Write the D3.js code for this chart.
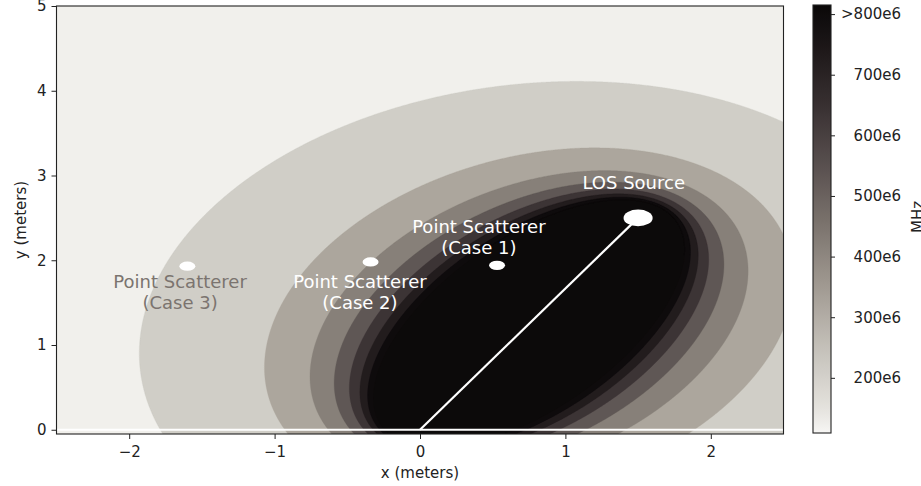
<!DOCTYPE html>
<html><head><meta charset="utf-8">
<script src="https://cdn.jsdelivr.net/npm/d3@7"></script>
<style>html,body{margin:0;padding:0;background:#fff;} svg{display:block;font-family:"DejaVu Sans",sans-serif;}</style>
</head><body><svg id="chart" width="921" height="486"></svg>
<script>
// ---------------- data ----------------
const xDomain = [-2.5, 2.5];
const yDomain = [-0.05, 5];
const xTicks = [-2, -1, 0, 1, 2];
const yTicks = [0, 1, 2, 3, 4, 5];
const receiverPos = [0, 0];
const losSource = [1.5, 2.5];
const scattererX = [0.53, -0.34, -1.60];
const scattererY = [1.94, 1.98, 1.93];
const contourLevels = [100e6, 200e6, 300e6, 400e6, 500e6, 600e6, 700e6, 800e6];
const speedOfLight = 3e8;               // bandwidth = c / excess path length
const cbarDomain = [109e6, 815e6];
const cbarTicks = [200e6, 300e6, 400e6, 500e6, 600e6, 700e6, 800e6];
const cbarTickLabels = ["200e6", "300e6", "400e6", "500e6", "600e6", "700e6", ">800e6"];
const labelTexts = [["LOS Source"], ["Point Scatterer", "(Case 1)"], ["Point Scatterer", "(Case 2)"], ["Point Scatterer", "(Case 3)"]];
const labelX = [1.47, 0.405, -0.413, -1.65];
const labelY = [2.84, 2.327, 1.678, 1.678];
const cmapValues = [109e6, 150e6, 250e6, 350e6, 450e6, 550e6, 650e6, 750e6, 815e6];

// ---------------- styles ----------------
const bandColors = ["#f1f0ec", "#d0cec7", "#aca69d", "#878079", "#5f5755", "#3c3435", "#221c1d", "#0e0b0c", "#0c0a0a"];
const cmapColors = ["#f7f6f4", "#e4e2dd", "#c4c0b9", "#a19a92", "#7c746e", "#59504f", "#383031", "#1b1617", "#0a0808"];
const labelColors = ["#ffffff", "#ffffff", "#ffffff", "#7b746f"];
const FONT = 15, ANN_FONT = 18;

const svg = d3.select("#chart");
const plot = {left: 56.5, right: 783.5, top: 6, bottom: 434};
const x = d3.scaleLinear().domain(xDomain).range([plot.left, plot.right]);
const y = d3.scaleLinear().domain(yDomain).range([plot.bottom, plot.top]);

svg.append("defs").append("clipPath").attr("id", "clip")
  .append("rect").attr("x", plot.left).attr("y", plot.top)
  .attr("width", plot.right - plot.left).attr("height", plot.bottom - plot.top);

// ---------------- field ----------------
const nx = 728, ny = 428;
const dxw = (xDomain[1] - xDomain[0]) / nx, dyw = (yDomain[1] - yDomain[0]) / ny;
const direct = Math.hypot(losSource[0] - receiverPos[0], losSource[1] - receiverPos[1]);
const values = new Float64Array(nx * ny);
for (let j = 0; j < ny; j++) {
  const py = yDomain[0] + (j + 0.5) * dyw;
  for (let i = 0; i < nx; i++) {
    const px = xDomain[0] + (i + 0.5) * dxw;
    const excess = Math.hypot(px - receiverPos[0], py - receiverPos[1]) + Math.hypot(px - losSource[0], py - losSource[1]) - direct;
    values[j * nx + i] = speedOfLight / Math.max(excess, 1e-4);
  }
}
const contours = d3.contours().size([nx, ny]).thresholds(contourLevels)(values);
const proj = d3.geoTransform({point: function(gx, gy) {
  this.stream.point(x(xDomain[0] + gx * dxw), y(yDomain[0] + gy * dyw));
}});
const path = d3.geoPath(proj);

const field = svg.append("g").attr("clip-path", "url(#clip)");
field.append("rect").attr("x", plot.left).attr("y", plot.top)
  .attr("width", plot.right - plot.left).attr("height", plot.bottom - plot.top)
  .attr("fill", bandColors[0]);
field.selectAll("path.band").data(contours).join("path").attr("class", "band")
  .attr("d", path).attr("fill", (d, i) => bandColors[i + 1]).attr("stroke", (d, i) => bandColors[i + 1]).attr("stroke-width", 0.3);

// white horizontal line at y = 0 and LOS line
field.append("line").attr("x1", plot.left).attr("x2", plot.right)
  .attr("y1", y(0)).attr("y2", y(0)).attr("stroke", "#fff").attr("stroke-width", 2);
field.append("line").attr("x1", x(receiverPos[0])).attr("y1", y(receiverPos[1]))
  .attr("x2", x(losSource[0])).attr("y2", y(losSource[1])).attr("stroke", "#fff").attr("stroke-width", 2.2);

// markers (circles in data space)
const srcR = 0.1, scatR = 0.055;
field.append("ellipse").attr("cx", x(losSource[0])).attr("cy", y(losSource[1]))
  .attr("rx", x(srcR) - x(0)).attr("ry", y(0) - y(srcR)).attr("fill", "#fff");
field.selectAll("ellipse.scat").data(scattererX).join("ellipse").attr("class", "scat")
  .attr("cx", d => x(d)).attr("cy", (d, i) => y(scattererY[i]))
  .attr("rx", x(scatR) - x(0)).attr("ry", y(0) - y(scatR)).attr("fill", "#fff");

// annotations
labelTexts.forEach((lines, k) => {
  const t = svg.append("text").attr("x", x(labelX[k])).attr("y", y(labelY[k]))
    .attr("text-anchor", "middle").attr("font-size", ANN_FONT).attr("fill", labelColors[k]);
  lines.forEach((ln, m) => t.append("tspan").attr("x", x(labelX[k])).attr("dy", m === 0 ? 0 : "1.2em").text(ln));
});

// frame
svg.append("rect").attr("x", plot.left).attr("y", plot.top)
  .attr("width", plot.right - plot.left).attr("height", plot.bottom - plot.top)
  .attr("fill", "none").attr("stroke", "#222").attr("stroke-width", 1.1);

// axes
const fmt = d3.format("d");
const xAxis = svg.append("g").attr("transform", `translate(0,${plot.bottom})`)
  .call(d3.axisBottom(x).tickValues(xTicks).tickSize(5).tickPadding(7.5).tickFormat(d => d < 0 ? "\u2212" + Math.abs(d) : fmt(d)));
const yAxis = svg.append("g").attr("transform", `translate(${plot.left},0)`)
  .call(d3.axisLeft(y).tickValues(yTicks).tickSize(5).tickPadding(5).tickFormat(fmt));
[xAxis, yAxis].forEach(a => {
  a.select(".domain").remove();
  a.selectAll("line").attr("stroke", "#222");
  a.selectAll("text").attr("font-size", FONT).attr("fill", "#222").attr("font-family", "DejaVu Sans");
});

svg.append("text").attr("x", (plot.left + plot.right) / 2).attr("y", 478)
  .attr("text-anchor", "middle").attr("font-size", FONT).attr("fill", "#222").text("x (meters)");
svg.append("text").attr("transform", `translate(26,${(plot.top + plot.bottom) / 2}) rotate(-90)`)
  .attr("text-anchor", "middle").attr("font-size", FONT).attr("fill", "#222").text("y (meters)");

// ---------------- colorbar ----------------
const cb = {x: 813, w: 18, top: 5, bottom: 433};
const cy = d3.scaleLinear().domain(cbarDomain).range([cb.bottom, cb.top]);
const cmap = d3.scaleLinear().domain(cmapValues).range(cmapColors).interpolate(d3.interpolateRgb);
const grad = svg.select("defs").append("linearGradient").attr("id", "cbgrad")
  .attr("x1", 0).attr("x2", 0).attr("y1", 1).attr("y2", 0);
d3.range(0, 1.0001, 0.02).forEach(t => {
  const v = cbarDomain[0] + t * (cbarDomain[1] - cbarDomain[0]);
  grad.append("stop").attr("offset", t).attr("stop-color", cmap(v));
});
svg.append("rect").attr("x", cb.x).attr("y", cb.top).attr("width", cb.w).attr("height", cb.bottom - cb.top)
  .attr("fill", "url(#cbgrad)").attr("stroke", "#222").attr("stroke-width", 1.1);
const cbAxis = svg.append("g").attr("transform", `translate(${cb.x + cb.w},0)`)
  .call(d3.axisRight(cy).tickValues(cbarTicks).tickSize(4).tickPadding(0).tickFormat((d, i) => cbarTickLabels[i]));
cbAxis.select(".domain").remove();
cbAxis.selectAll("line").attr("stroke", "#222");
cbAxis.selectAll("text").attr("x", 901 - (cb.x + cb.w)).attr("text-anchor", "end")
  .attr("font-size", FONT).attr("fill", "#222").attr("font-family", "DejaVu Sans");
svg.append("text").attr("transform", `translate(922.5,217) rotate(-90)`)
  .attr("text-anchor", "middle").attr("font-size", FONT).attr("fill", "#222").text("MHz");
</script></body></html>
